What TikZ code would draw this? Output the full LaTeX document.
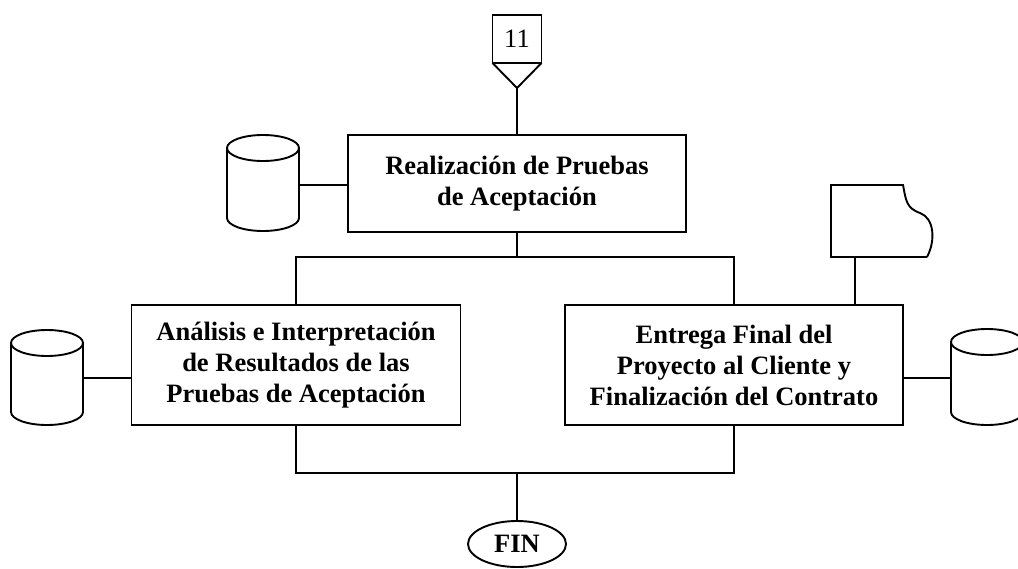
\documentclass[tikz,border=0pt]{standalone}
\usepackage{fontspec}
\setmainfont{Liberation Serif}
\usetikzlibrary{shapes.geometric}
\tikzset{
  ln/.style={line width=1.9pt},
  procbox/.style={draw, ln, rectangle, inner sep=0pt, align=center,
    font=\fontsize{26.5}{31}\selectfont\bfseries},
  ghost/.style={inner sep=0pt, outer sep=0pt, rectangle},
}
\newcommand\dbcyl[4]{%
  \node[ghost, minimum width=72pt, minimum height={#4-#3}] (#1) at (#2,{(#3+#4)/2}) {};
  \draw[ln] (#2,#3+13) ellipse [x radius=36, y radius=13];
  \draw[ln] (#2-36,#3+13) -- (#2-36,#4-13) arc[start angle=180, end angle=0, x radius=36, y radius=13] -- (#2+36,#3+13);
}
\begin{document}
\begin{tikzpicture}[x=1pt,y=-1pt]
\useasboundingbox (0,0) rectangle (1018,568);
% off-page connector 11
\node[draw, ln, ghost, minimum width=49pt, minimum height=48pt,
  font=\fontsize{26.5}{31}\selectfont] (c11) at (517,39) {11};
\coordinate (c11tip) at (517,88);
\draw[ln] (c11.south west) -- (c11tip) -- (c11.south east);
% main process boxes
\node[procbox, minimum width=338pt, minimum height=97pt] (b1) at (517,183.5)
  {Realización de Pruebas\\de Aceptación};
\node[procbox, minimum width=329pt, minimum height=120pt] (b2) at (296,365)
  {Análisis e Interpretación\\de Resultados de las\\Pruebas de Aceptación};
\node[procbox, minimum width=338pt, minimum height=120pt] (b3) at (734,365)
  {Entrega Final del\\Proyecto al Cliente y\\Finalización del Contrato};
% terminator
\node[draw, ln, ellipse, inner sep=0pt, minimum width=98pt, minimum height=46pt,
  font=\fontsize{26.5}{31}\selectfont\bfseries] (fin) at (517,544) {FIN};
% databases
\dbcyl{db1}{263}{135}{231}
\dbcyl{db2}{47}{330}{425}
\dbcyl{db3}{987}{329}{425}
% document
\node[ghost, minimum width=96pt, minimum height=72pt] (doc) at (879,221) {};
\draw[ln] (doc.south east) -- (doc.south west) -- (doc.north west) -- ++(72,0)
  .. controls ++(3,15) and ++(-14,-5) .. ++(17,28)
  .. controls ++(14,5) and ++(9,-17) .. (doc.south east);
% connectors
\coordinate (split) at (517,257);
\coordinate (join) at (517,473);
\draw[ln] (c11tip) -- (b1.north);
\draw[ln] (db1.east |- 0,185) -- (b1.west |- 0,185);
\draw[ln] (b1.south) -- (split);
\draw[ln] (b2.north) -- (b2.north |- split) -- (b3.north |- split) -- (b3.north);
\draw[ln] (db2.east |- 0,378) -- (b2.west |- 0,378);
\draw[ln] (db3.west |- 0,378) -- (b3.east |- 0,378);
\draw[ln] ([xshift=24pt]doc.south west) -- ([xshift=24pt]doc.south west |- b3.north);
\draw[ln] (b2.south) -- (b2.south |- join) -- (b3.south |- join) -- (b3.south);
\draw[ln] (join) -- (fin.north);
\end{tikzpicture}
\end{document}
